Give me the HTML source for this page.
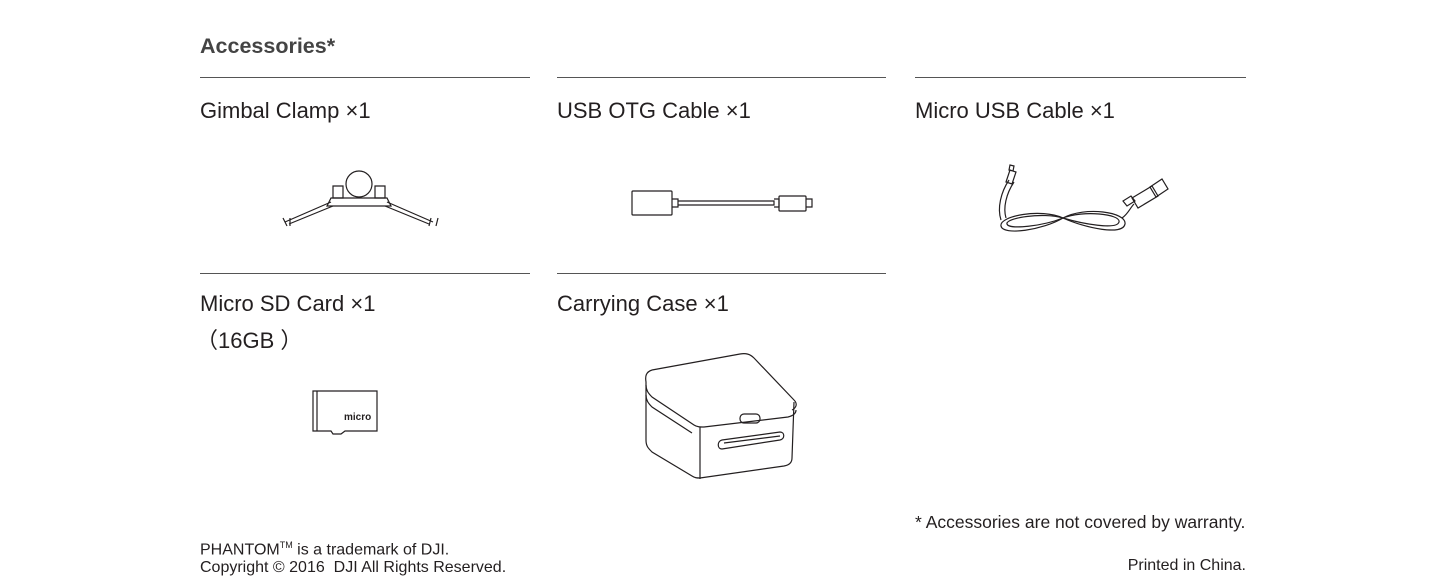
<!DOCTYPE html>
<html><head><meta charset="utf-8"><style>
body{margin:0;width:1452px;height:588px;background:#fff;position:relative;font-family:"Liberation Sans",sans-serif;color:#231f20;overflow:hidden}
.t{position:absolute;white-space:nowrap}
.h{font-size:22px}
.line{position:absolute;height:1px;background:#555}
svg{position:absolute;left:0;top:0}
</style></head><body>
<div class="t" style="left:200px;top:34px;font-size:21.5px;font-weight:bold;color:#444">Accessories*</div>
<div class="line" style="left:200px;top:77px;width:330px"></div>
<div class="line" style="left:557px;top:77px;width:329px"></div>
<div class="line" style="left:915px;top:77px;width:331px"></div>
<div class="line" style="left:200px;top:273px;width:330px"></div>
<div class="line" style="left:557px;top:273px;width:329px"></div>
<div class="t h" style="left:200px;top:98px">Gimbal Clamp ×1</div>
<div class="t h" style="left:557px;top:98px">USB OTG Cable ×1</div>
<div class="t h" style="left:915px;top:98px">Micro USB Cable ×1</div>
<div class="t h" style="left:200px;top:291px">Micro SD Card ×1</div>
<div class="t h" style="left:196px;top:323px">（16GB ）</div>
<div class="t h" style="left:557px;top:291px">Carrying Case ×1</div>
<div class="t" style="left:915px;top:512px;font-size:17.5px">* Accessories are not covered by warranty.</div>
<div class="t" style="left:200px;top:540px;font-size:16px">PHANTOM<sup style="font-size:9px">TM</sup> is a trademark of DJI.</div>
<div class="t" style="left:200px;top:559px;font-size:16px">Copyright © 2016&nbsp; DJI All Rights Reserved.</div>
<div class="t" style="right:206px;top:557px;font-size:16px">Printed in China.</div>
<svg width="1452" height="588" fill="none" stroke="#231f20" stroke-width="1.2">
<circle cx="359" cy="184" r="13"/>
<path d="M333 186h10v12h-10zM375 186h10v12h-10z"/>
<path d="M331 198h56l4 8h-64z"/>
<path d="M331 202l-46 20M333 206l-44 18M387 202l46 20M385 206l44 18"/>
<path d="M283 218l4 8M290 218l0 8M431 218l-2 8M438 218l-2 8"/>
<rect x="632" y="191" width="40" height="24" rx="1"/>
<path d="M672 199h6v8h-6M678 201h96v4h-96M774 199h5v8h-5"/>
<rect x="779" y="196" width="27" height="15" rx="1"/>
<path d="M806 199h6v8h-6"/>
<path d="M1063 218c-20 12-60 18-62 8s40-18 62-8c22 10 60 18 62 6s-40-18-62-6z"/>
<path d="M1063 218c-20 8-54 12-56 6s36-12 56-6c20 6 54 12 56 4s-36-12-56-4z"/>
<path d="M1001 220c-4-12 0-28 8-40M1006 218c-3-10 0-24 8-36"/>
<path d="M1122 218c6-4 8-10 12-14"/>
<path d="M1006 182l4-12 6 2-4 12zM1009 170l1-5 4 1-1 5z"/>
<path d="M1127 206l-4-5 8-5 4 5z"/>
<path d="M1132 198l20-12 6 10-20 12z"/>
<path d="M1150 187l12-8 6 10-12 8z"/>
<path d="M313 391h64v40h-32l-4 3h-8l-2-3h-18z"/>
<path d="M317 391v40"/>
<text x="344" y="420" font-size="10" font-weight="bold" fill="#231f20" stroke="none" font-family="Liberation Sans">micro</text>
<path d="M652 370l88-16c6-1 10 0 14 4l40 42c4 4 2 8-2 10" />
<path d="M652 370c-6 2-7 6-6 12v58c0 6 2 8 6 12l40 24c3 2 5 2 8 2l84-12c6-1 8-4 8-8l2-56"/>
<path d="M646 385c0 5 2 8 6 12l42 28c3 2 6 2 10 2l84-10c4-1 8-3 8-7"/>
<path d="M646 395c0 5 2 8 6 12l40 26"/>
<path d="M700 427v52"/>
<rect x="740" y="414" width="20" height="9" rx="4"/>
<path d="M722 440l58-8c5 0 5 7 0 8l-58 9c-5 0-5-8 0-9z"/>
<path d="M724 443l56-7"/>
</svg>
</body></html>
